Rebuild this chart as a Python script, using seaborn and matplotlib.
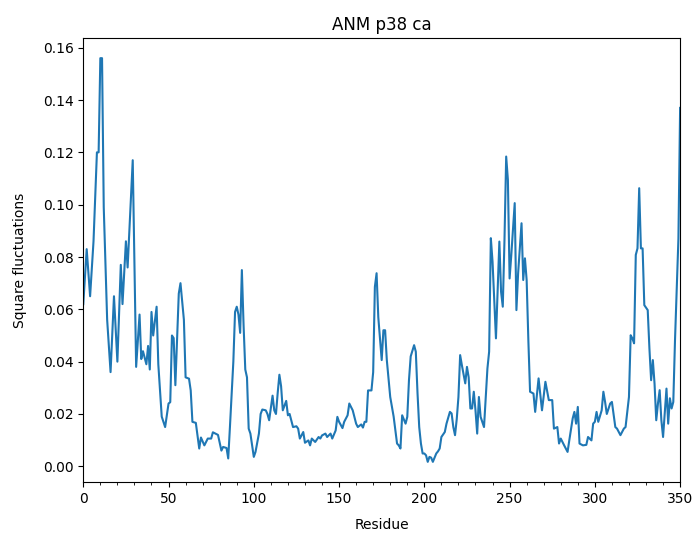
import matplotlib
matplotlib.use("Agg")
import matplotlib.pyplot as plt
from matplotlib.ticker import MultipleLocator
import seaborn as sns

# ANM square fluctuations of p38 CA atoms
residues = [
    0, 2, 4, 6, 8, 9, 10, 11, 12, 14, 16, 18, 20, 22, 23, 25, 26, 29, 31, 33,
    34, 35, 37, 38, 39, 40, 41, 43, 44, 46, 48, 50, 51, 52, 53, 54, 56, 57, 59, 60,
    62, 63, 64, 66, 68, 69, 71, 73, 75, 76, 79, 81, 82, 84, 85, 86, 88, 89, 90, 91,
    92, 93, 94, 95, 96, 97, 98, 100, 101, 103, 104, 105, 107, 108, 109, 111, 112, 113, 114, 115,
    116, 117, 119, 120, 121, 123, 125, 126, 127, 129, 130, 132, 133, 134, 136, 138, 139, 140, 142, 143,
    145, 146, 148, 149, 150, 152, 153, 155, 156, 158, 160, 161, 163, 164, 165, 166, 167, 169, 170, 171,
    172, 173, 175, 176, 177, 178, 180, 182, 184, 185, 186, 187, 189, 190, 191, 192, 194, 195, 196, 197,
    198, 199, 200, 201, 202, 203, 204, 205, 207, 208, 209, 210, 212, 213, 215, 216, 217, 218, 219, 220,
    221, 222, 224, 225, 226, 227, 228, 229, 230, 231, 232, 233, 235, 237, 238, 239, 240, 242, 244, 245,
    246, 247, 248, 249, 250, 251, 253, 254, 255, 257, 258, 259, 260, 261, 262, 264, 265, 267, 269, 271,
    273, 275, 276, 278, 279, 280, 282, 284, 285, 287, 288, 289, 290, 291, 293, 295, 296, 298, 299, 300,
    301, 302, 304, 305, 306, 307, 309, 310, 312, 313, 315, 317, 318, 320, 321, 322, 323, 324, 325, 326,
    327, 328, 329, 331, 332, 333, 334, 335, 336, 337, 338, 339, 340, 342, 343, 344, 345, 346, 347, 349,
    350,
]
sq_flucts = [
    0.062, 0.083, 0.065, 0.086, 0.120, 0.120, 0.156, 0.156, 0.099, 0.056, 0.036, 0.065, 0.040, 0.077, 0.062, 0.086, 0.076, 0.117, 0.038, 0.058,
    0.041, 0.044, 0.039, 0.046, 0.037, 0.059, 0.050, 0.061, 0.039, 0.019, 0.015, 0.024, 0.0245, 0.050, 0.049, 0.031, 0.066, 0.070, 0.056, 0.034,
    0.0335, 0.029, 0.017, 0.0166, 0.0068, 0.011, 0.008, 0.0106, 0.0106, 0.013, 0.012, 0.006, 0.0074, 0.007, 0.003, 0.015, 0.040, 0.059, 0.061, 0.058,
    0.051, 0.075, 0.054, 0.037, 0.034, 0.0144, 0.0125, 0.0036, 0.0055, 0.0125, 0.020, 0.0217, 0.0214, 0.020, 0.0176, 0.027, 0.0214, 0.020, 0.028, 0.035,
    0.0306, 0.0214, 0.025, 0.0195, 0.020, 0.015, 0.0153, 0.0144, 0.0106, 0.0131, 0.009, 0.0099, 0.008, 0.0106, 0.0093, 0.0112, 0.0106, 0.0118, 0.0125, 0.0112,
    0.0125, 0.0106, 0.0137, 0.0189, 0.017, 0.0146, 0.017, 0.0195, 0.024, 0.0214, 0.0163, 0.015, 0.016, 0.0148, 0.017, 0.017, 0.029, 0.029, 0.036, 0.0686,
    0.0738, 0.057, 0.0406, 0.052, 0.052, 0.0406, 0.0265, 0.019, 0.0087, 0.008, 0.0068, 0.0195, 0.0163, 0.0189, 0.033, 0.042, 0.0463, 0.0438, 0.028, 0.015,
    0.0087, 0.0049, 0.0049, 0.0042, 0.0017, 0.0036, 0.0033, 0.0017, 0.0049, 0.0057, 0.0068, 0.0112, 0.0131, 0.0163, 0.0208, 0.0202, 0.015, 0.0119, 0.018, 0.0265,
    0.0425, 0.0387, 0.0317, 0.038, 0.034, 0.0221, 0.0221, 0.0285, 0.0214, 0.0125, 0.0265, 0.0189, 0.015, 0.0374, 0.0438, 0.0872, 0.0782, 0.0489, 0.0859, 0.0667,
    0.061, 0.0865, 0.1184, 0.1095, 0.0718, 0.0808, 0.1006, 0.0597, 0.0738, 0.0929, 0.0712, 0.0795, 0.0712, 0.0482, 0.0285, 0.0278, 0.0208, 0.0336, 0.0214, 0.0323,
    0.0253, 0.0253, 0.0144, 0.015, 0.0087, 0.0106, 0.008, 0.0055, 0.0099, 0.0183, 0.0208, 0.0163, 0.0227, 0.0087, 0.008, 0.0082, 0.0112, 0.0099, 0.0163, 0.017,
    0.0208, 0.017, 0.0214, 0.0285, 0.0246, 0.020, 0.024, 0.0246, 0.015, 0.0144, 0.0119, 0.0144, 0.015, 0.0265, 0.0501, 0.0489, 0.047, 0.0808, 0.0833, 0.1063,
    0.0833, 0.0833, 0.0616, 0.0597, 0.045, 0.0329, 0.0406, 0.0316, 0.0176, 0.024, 0.0291, 0.0176, 0.0112, 0.0297, 0.0163, 0.026, 0.0221, 0.0246, 0.0482, 0.087,
    0.137,
]

fig = plt.figure(figsize=(6.94, 5.35), dpi=100)
ax = fig.add_axes([0.12, 0.099, 0.86, 0.83])

sns.lineplot(x=residues, y=sq_flucts, ax=ax, color="#1f77b4", linewidth=1.5)

ax.set_xlim(0, 350)
ax.xaxis.set_minor_locator(MultipleLocator(10))
ax.set_title("ANM p38 ca")
ax.set_xlabel("Residue", labelpad=9)
ax.set_ylabel("Square fluctuations", labelpad=11)

fig.savefig("out.png", dpi=100)
